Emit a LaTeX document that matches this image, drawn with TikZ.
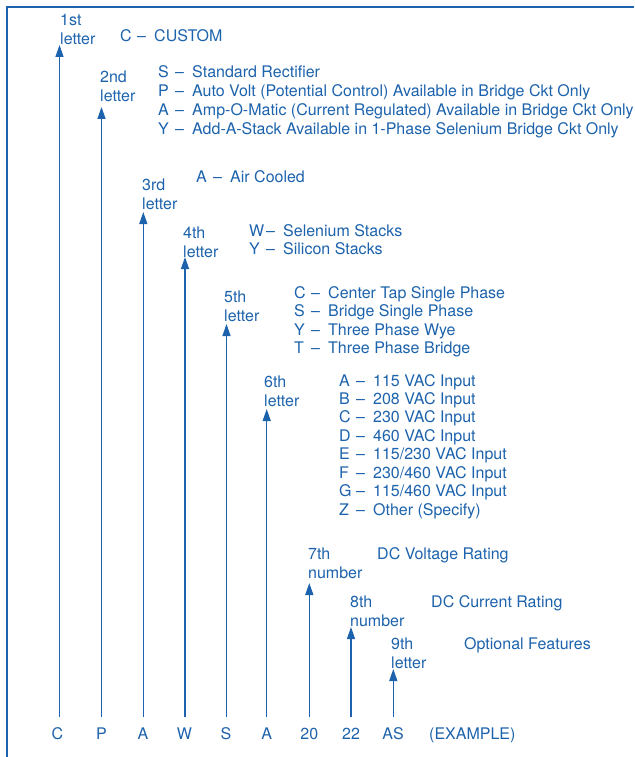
\documentclass[tikz,border=0pt]{standalone}
\usepackage{fontspec}
\setmainfont{TeX Gyre Heros}
\usetikzlibrary{arrows.meta}
\definecolor{cblue}{RGB}{28,98,172}
\newcommand\keyline[2]{\makebox[17pt][l]{#1}\makebox[17pt][l]{–}#2}
\begin{document}
\begin{tikzpicture}[x=1pt,y=-1pt,
  txt/.style={anchor=base west,inner sep=0pt,text=cblue,font=\fontsize{16}{18.5}\selectfont},
  ctxt/.style={txt,anchor=base},
  keyarrow/.style={draw=cblue,line width=1.3pt,-{Triangle[width=8pt,length=12pt]}},
  frameline/.style={draw=cblue,line width=1.3pt}]
\useasboundingbox (0,0) rectangle (634,757);
\clip (0,0) rectangle (634,757);
% frame
\coordinate (fa) at (7,757);
\coordinate (fb) at (7,7);
\coordinate (fc) at (634,7);
\draw[frameline] (fa) -- (fb) -- (fc);
% arrows and example letters
\foreach \x/\t/\b/\bx [count=\i] in {59.5/45/C/57.5, 101.5/107/P/101.5, 143.3/212/A/143, 185/257/W/184.5, 226.5/324/S/226, 266.7/409/A/266.7, 309.3/583/20/309.3, 351/627/22/351, 393.3/669/AS/393}{
  \coordinate (s\i) at (\x,717);
  \coordinate (t\i) at (\x,\t);
  \draw[keyarrow] (s\i) -- (t\i);
  \node[ctxt] (b\i) at (\bx,739) {\b};
}
\node[txt] (ex) at (429,739) {(EXAMPLE)};
% position labels
\foreach \x/\y/\a/\c [count=\i] in {60/26/1st/letter, 100/83/2nd/letter, 142/190/3rd/letter, 183/238/4th/letter, 224/302/5th/letter, 264/387/6th/letter, 308/559/7th/number, 350/607/8th/number, 391/649/9th/letter}{
  \node[txt] (la\i) at (\x,\y) {\a};
  \node[txt] (lb\i) at (\x,{\y+19}) {\c};
}
% descriptions
\node[txt] (d1-1) at (120,42) {\keyline{C}{CUSTOM}};
\foreach \k/\t [count=\i] in {S/{Standard Rectifier}, P/{Auto Volt (Potential Control) Available in Bridge Ckt Only}, A/{Amp-O-Matic (Current Regulated) Available in Bridge Ckt Only}, Y/{Add-A-Stack Available in 1-Phase Selenium Bridge Ckt Only}}{
  \node[txt] (d2-\i) at (158,{78+18.7*(\i-1)}) {\keyline{\k}{\t}};
}
\node[txt] (d3-1) at (196,182) {\keyline{A}{Air Cooled}};
\foreach \k/\t [count=\i] in {W/{Selenium Stacks}, Y/{Silicon Stacks}}{
  \node[txt] (d4-\i) at (249,{236+18.5*(\i-1)}) {\keyline{\k}{\t}};
}
\foreach \k/\t [count=\i] in {C/{Center Tap Single Phase}, S/{Bridge Single Phase}, Y/{Three Phase Wye}, T/{Three Phase Bridge}}{
  \node[txt] (d5-\i) at (294,{298+18.5*(\i-1)}) {\keyline{\k}{\t}};
}
\foreach \k/\t [count=\i] in {A/{115 VAC Input}, B/{208 VAC Input}, C/{230 VAC Input}, D/{460 VAC Input}, E/{115/230 VAC Input}, F/{230/460 VAC Input}, G/{115/460 VAC Input}, Z/{Other (Specify)}}{
  \node[txt] (d6-\i) at (339,{386+18.43*(\i-1)}) {\keyline{\k}{\t}};
}
\node[txt] (d7-1) at (377,559) {DC Voltage Rating};
\node[txt] (d8-1) at (431,607) {DC Current Rating};
\node[txt] (d9-1) at (464,649) {Optional Features};
\end{tikzpicture}
\end{document}
